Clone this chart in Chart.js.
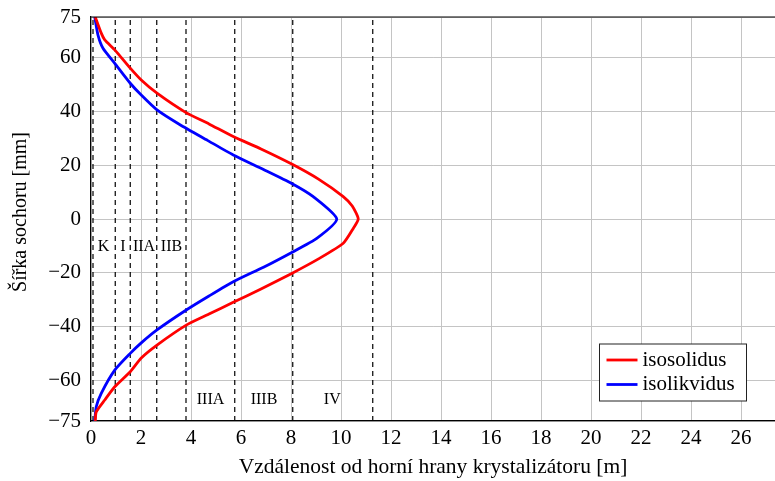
<!DOCTYPE html>
<html>
<head>
<meta charset="utf-8">
<script src="https://cdn.jsdelivr.net/npm/chart.js@4.4.0/dist/chart.umd.min.js"></script>
<style>
	html, body { margin: 0; padding: 0; background: #fff; }
	#wrap { width: 775px; height: 481px; }
</style>
</head>
<body>
<div id="wrap"><canvas id="myChart"></canvas></div>
<script>
// isosolidus: distance from mould top [m] vs billet width [mm]
const solidusX = [0.17, 0.41, 0.55, 0.95, 1.57, 2.01, 2.64, 3.8, 4.72, 5.69, 6.8, 8.03, 9.1, 10.09, 10.45, 10.69,
	10.49, 10.09, 9.1, 8.03, 6.8, 5.69, 4.72, 3.81, 2.64, 2.01, 1.57, 0.95, 0.55, 0.21, 0.17];
const solidusY = [75, 69.0, 66.5, 62.8, 56.0, 51.6, 46.7, 39.5, 35.3, 30.6, 26.0, 20.4, 14.8, 8.3, 4.8, 0,
	-3.5, -9.0, -14.8, -20.2, -26.0, -30.9, -35.3, -39.4, -46.8, -51.6, -56.7, -62.3, -67.2, -71.6, -75];
// isolikvidus
const likvidusX = [0.15, 0.28, 0.48, 0.95, 1.57, 2.01, 2.64, 3.56, 4.66, 5.69, 6.9, 8.03, 8.89, 9.83,
	9.03, 8.03, 6.9, 5.69, 4.72, 3.81, 2.64, 2.01, 1.57, 0.95, 0.41, 0.21, 0.15];
const likvidusY = [75, 68.3, 63.4, 57.8, 50.4, 46.0, 40.5, 35.0, 29.2, 23.8, 18.4, 13.2, 8.3, 0,
	-7.2, -12.4, -17.9, -23.3, -28.6, -33.8, -41.2, -46.0, -49.9, -56.1, -64.7, -69.7, -75];

// zone boundaries [m] and zone names
const zoneBounds = [0.08, 0.97, 1.57, 2.63, 3.8, 5.75, 8.07, 11.27];
const zoneNames = ['K', 'I', 'IIA', 'IIB', 'IIIA', 'IIIB', 'IV'];
const zoneLabelX = [0.5, 1.28, 2.12, 3.22, 4.78, 6.92, 9.65];
const zoneLabelY = [-10.5, -10.5, -10.5, -10.5, -67, -67, -67];

const xTicks = [0, 2, 4, 6, 8, 10, 12, 14, 16, 18, 20, 22, 24, 26];
const yTicks = [-75, -60, -40, -20, 0, 20, 40, 60, 75];

const seriesNames = ['isosolidus', 'isolikvidus'];
const seriesColors = ['#ff0000', '#0000ff'];
const yTitle = 'Šířka sochoru [mm]';

const FONT = "'Liberation Serif', 'DejaVu Serif', serif";

function toPoints(xs, ys){
	return xs.map((x, i) => ({ x: x, y: ys[i] }));
}

let datasets = [
	{ label: seriesNames[0], data: toPoints(solidusX, solidusY), borderColor: seriesColors[0], borderWidth: 2.8, tension: 0.2 },
	{ label: seriesNames[1], data: toPoints(likvidusX, likvidusY), borderColor: seriesColors[1], borderWidth: 2.8, tension: 0.2 }
];
zoneBounds.forEach((b) => {
	datasets.push({
		label: '',
		data: [{ x: b, y: -75 }, { x: b, y: 75 }],
		borderColor: '#000',
		borderWidth: 1.2,
		borderDash: [5, 4],
		tension: 0
	});
});
datasets.forEach(d => { d.showLine = true; d.pointRadius = 0; d.fill = false; });

// zone names, top frame line, y title and the legend box
const overlayPlugin = {
	id: 'overlay',
	afterDatasetsDraw(chart){
		const c = chart.ctx;
		const x = chart.scales.x, y = chart.scales.y;
		const area = chart.chartArea;
		c.save();
		c.fillStyle = '#000';
		c.font = '16px ' + FONT;
		c.textAlign = 'center';
		c.textBaseline = 'middle';
		zoneNames.forEach((n, i) => {
			c.fillText(n, x.getPixelForValue(zoneLabelX[i]), y.getPixelForValue(zoneLabelY[i]));
		});
		// y title
		c.save();
		c.translate(21, 212);
		c.rotate(-Math.PI / 2);
		c.font = '20px ' + FONT;
		c.fillText(yTitle, 0, 0);
		c.restore();
		// top frame
		c.strokeStyle = '#000';
		c.lineWidth = 1.2;
		c.beginPath();
		c.moveTo(area.left, area.top);
		c.lineTo(area.right, area.top);
		c.stroke();
		// legend
		const bx = 599.5, by = 344, bw = 147, bh = 57;
		c.fillStyle = '#fff';
		c.fillRect(bx, by, bw, bh);
		c.strokeStyle = '#222';
		c.lineWidth = 1;
		c.strokeRect(bx, by, bw, bh);
		c.textAlign = 'left';
		c.font = '21px ' + FONT;
		seriesNames.forEach((n, i) => {
			const ly = by + 16 + i * 24.5;
			c.strokeStyle = seriesColors[i];
			c.lineWidth = 2.8;
			c.beginPath();
			c.moveTo(bx + 7, ly);
			c.lineTo(bx + 38, ly);
			c.stroke();
			c.fillStyle = '#000';
			c.fillText(n, bx + 43, ly);
		});
		c.restore();
	}
};

const minus = v => String(v).replace('-', '\u2212');

const ctx = document.getElementById('myChart').getContext('2d');
const myChart = new Chart(ctx, {
	type: 'scatter',
	data: { datasets: datasets },
	options: {
		responsive: true,
		maintainAspectRatio: false,
		animation: false,
		layout: { padding: { top: 17, right: 0, left: 0, bottom: 0 } },
		plugins: {
			legend: { display: false },
			tooltip: { enabled: false }
		},
		scales: {
			x: {
				type: 'linear',
				min: 0,
				max: 27.36,
				afterBuildTicks: (s) => { s.ticks = xTicks.map(v => ({ value: v })); },
				afterFit: (s) => { s.height = 60; s.paddingLeft = 0; s.paddingRight = 0; },
				grid: { color: '#c4c4c4', lineWidth: 1, drawTicks: false },
				border: { color: '#000', width: 1.2 },
				ticks: { color: '#000', font: { family: FONT, size: 21 }, padding: 5, callback: minus, maxRotation: 0 },
				title: {
					display: true,
					text: 'Vzdálenost od horní hrany krystalizátoru [m]',
					color: '#000',
					font: { family: FONT, size: 21.5 },
					padding: { top: 2, bottom: 1 }
				}
			},
			y: {
				type: 'linear',
				min: -75,
				max: 75,
				afterBuildTicks: (s) => { s.ticks = yTicks.map(v => ({ value: v })); },
				afterFit: (s) => { s.width = 91; s.paddingTop = 0; s.paddingBottom = 0; },
				grid: { color: '#c4c4c4', lineWidth: 1, drawTicks: false },
				border: { color: '#000', width: 1.2 },
				ticks: { color: '#000', font: { family: FONT, size: 21 }, padding: 10, callback: minus }
			}
		}
	},
	plugins: [overlayPlugin]
});
</script>
</body>
</html>
